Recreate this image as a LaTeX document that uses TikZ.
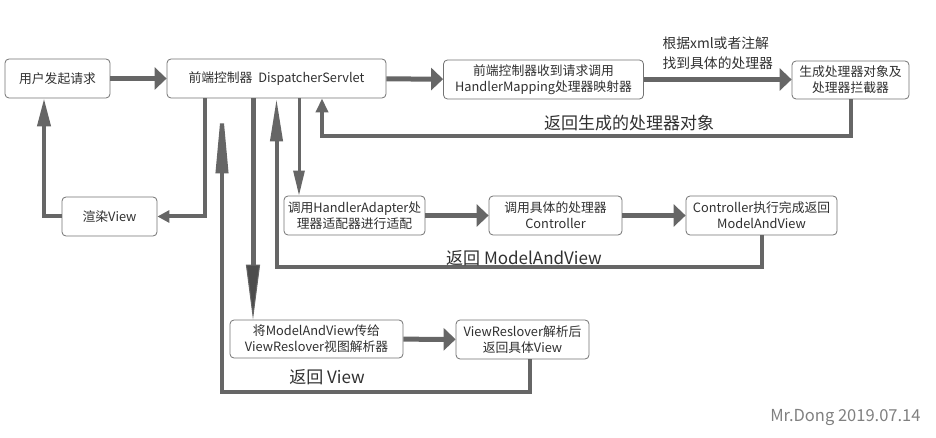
\documentclass[tikz,border=0pt]{standalone}
\usepackage{fontspec}
\setmainfont{Noto Sans CJK SC}
\usetikzlibrary{arrows.meta}
\definecolor{linegray}{HTML}{666666}
\definecolor{boxgray}{HTML}{737373}
\definecolor{txtgray}{HTML}{303030}
\tikzset{
	box/.style={draw=boxgray, line width=0.8pt, rounded corners=4pt, fill=white, text=txtgray, align=center, inner sep=1pt, font=\fontsize{12.8}{16}\selectfont, minimum height=39pt},
	fwd/.style={draw=linegray, line width=5pt, -{Triangle[length=12pt,width=22pt]}},
	ret/.style={draw=linegray, line width=4pt},
	lbl/.style={text=txtgray, font=\fontsize{17}{20}\selectfont},
}
\begin{document}
\begin{tikzpicture}[x=1pt, y=-1pt]
	\useasboundingbox (0,0) rectangle (936,438);
	\node[box, minimum width=105pt] (user) at (57.5,78.5) {用户发起请求};
	\node[box, minimum width=219pt] (disp) at (276.5,78.5) {前端控制器\ \ DispatcherServlet};
	\node[box, minimum width=200pt] (hm) at (543.5,79.5) {前端控制器收到请求调用\\HandlerMapping处理器映射器};
	\node[box, minimum width=117pt, minimum height=38pt] (gen) at (850.5,80) {生成处理器对象及\\处理器拦截器};
	\node[box, minimum width=95pt] (render) at (109.5,216.5) {渲染View};
	\node[box, minimum width=141pt] (ha) at (354.5,215.5) {调用HandlerAdapter处\\理器适配器进行适配};
	\node[box, minimum width=133pt] (ctrl) at (555.5,215.5) {调用具体的处理器\\Controller};
	\node[box, minimum width=151pt] (mav) at (761.5,215.5) {Controller执行完成返回\\ModelAndView};
	\node[box, minimum width=173pt, minimum height=38pt] (pass) at (316.5,339) {将ModelAndView传给\\ViewReslover视图解析器};
	\node[box, minimum width=133pt] (vr) at (522.5,339.5) {ViewReslover解析后\\返回具体View};

	\draw[fwd] (user) -- (disp);
	\draw[fwd] (disp) -- (hm);
	\draw[fwd] (hm.east) -- (hm.east -| gen.west) node[midway, above=4pt, align=left, text=txtgray, font=\fontsize{13.8}{20}\selectfont] (hmlbl) {根据xml或者注解\\找到具体的处理器};
	\draw[ret, -{Triangle[length=14pt,width=12pt]}] (gen.south) -- ++(0,37) -| ([xshift=45.5pt]disp.south);
	\node[lbl] (genlbl) at (629,123) {返回生成的处理器对象};

	\draw[draw=linegray, line width=3pt, -{Triangle[length=25pt,width=11pt]}] ([xshift=22.5pt]disp.south) -- ([xshift=22.5pt]disp.south |- ha.north);
	\draw[fwd] (ha) -- (ctrl);
	\draw[fwd] (ctrl) -- (mav);
	\draw[ret, -{Triangle[length=43pt,width=12pt]}] (mav.south) -- ++(0,32) -| (disp.south);
	\node[lbl] (mavlbl) at (524,258) {返回 ModelAndView};

	\draw[draw=linegray, line width=5pt, -{Triangle[length=55pt,width=14pt,line width=1pt,fill=black!70]}] ([xshift=-23.5pt]disp.south) -- ([xshift=-23.5pt]disp.south |- pass.north);
	\draw[fwd] (pass) -- (vr);
	\draw[ret, -{Triangle[length=75pt,width=12pt]}] ([xshift=7.5pt]vr.south) -- ++(0,33) -| ([xshift=-54.5pt]disp.south);
	\node[lbl] (vrlbl) at (327,377) {返回 View};

	\draw[ret, -{Triangle[length=12pt,width=12pt]}] ([xshift=-71.5pt]disp.south) |- (render.east);
	\draw[ret, -{Triangle[length=28pt,width=13pt]}] (render.west) -| ([xshift=-13.5pt]user.south);

	\node[text=gray, font=\fontsize{16.5}{18}\selectfont, anchor=east] (sign) at (924,418) {Mr.Dong 2019.07.14};
\end{tikzpicture}
\end{document}
